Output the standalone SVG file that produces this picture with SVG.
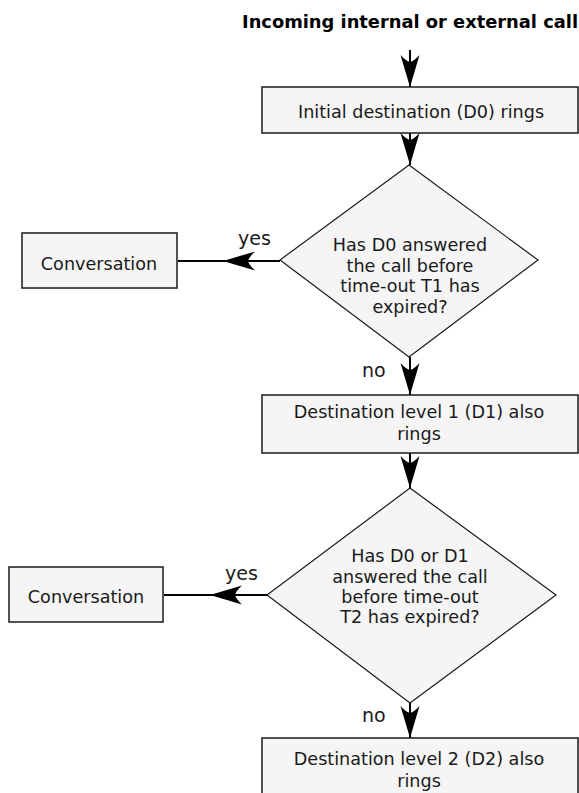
<svg xmlns="http://www.w3.org/2000/svg" width="579" height="793" viewBox="0 0 579 793">
<style>
  text { font-family: "DejaVu Sans", "Noto Sans", sans-serif; font-size: 17.6px; fill: #1a1a1a; }
  .title { font-weight: bold; fill: #000; font-size: 17.5px; }
  .box { fill: #f5f5f5; stroke: #1a1a1a; stroke-width: 1.5; }
  .dia { fill: #f5f5f5; stroke: #1a1a1a; stroke-width: 1.2; }
  .conn { stroke: #000; stroke-width: 2; fill: none; }
  .lbl { font-size: 19px; }
</style>
<defs>
  <marker id="arr" markerUnits="userSpaceOnUse" markerWidth="34" markerHeight="22" refX="32" refY="10" orient="auto">
    <path d="M32,10 L0,0.5 Q6,6 7,10 Q6,14 0,19.5 Z" fill="#000"/>
  </marker>
</defs>
<text class="title" x="242" y="28" textLength="336" lengthAdjust="spacingAndGlyphs">Incoming internal or external call</text>
<g id="connectors">
  <line class="conn" x1="410" y1="50" x2="410" y2="87" marker-end="url(#arr)"/>
  <line class="conn" x1="410" y1="133" x2="410" y2="165" marker-end="url(#arr)"/>
  <line class="conn" x1="280" y1="261" x2="223" y2="261" marker-end="url(#arr)"/>
  <line class="conn" x1="224" y1="261" x2="178" y2="261"/>
  <line class="conn" x1="410" y1="357" x2="410" y2="395" marker-end="url(#arr)"/>
  <line class="conn" x1="410" y1="453" x2="410" y2="488" marker-end="url(#arr)"/>
  <line class="conn" x1="267" y1="595" x2="210" y2="595" marker-end="url(#arr)"/>
  <line class="conn" x1="211" y1="595" x2="164" y2="595"/>
  <line class="conn" x1="410" y1="703" x2="410" y2="738" marker-end="url(#arr)"/>
  <text class="lbl" x="238" y="245">yes</text>
  <text class="lbl" x="362" y="377">no</text>
  <text class="lbl" x="225" y="580">yes</text>
  <text class="lbl" x="362" y="722">no</text>
</g>
<g id="d0">
  <rect class="box" x="262" y="87" width="316" height="46"/>
  <text x="421" y="118" text-anchor="middle">Initial destination (D0) rings</text>
</g>
<g id="q1">
  <polygon class="dia" points="409,165 538,260 409,357 280,260"/>
  <text x="410" y="251" text-anchor="middle">Has D0 answered</text>
  <text x="410" y="272" text-anchor="middle">the call before</text>
  <text x="410" y="292" text-anchor="middle">time-out T1 has</text>
  <text x="410" y="313" text-anchor="middle">expired?</text>
</g>
<g id="conv1">
  <rect class="box" x="22" y="233" width="155" height="55"/>
  <text x="99" y="270" text-anchor="middle">Conversation</text>
</g>
<g id="d1">
  <rect class="box" x="262" y="395" width="316" height="58"/>
  <text x="419" y="418" text-anchor="middle">Destination level 1 (D1) also</text>
  <text x="419" y="440" text-anchor="middle">rings</text>
</g>
<g id="q2">
  <polygon class="dia" points="410,488 556,595 410,703 267,595"/>
  <text x="410" y="562" text-anchor="middle">Has D0 or D1</text>
  <text x="410" y="583" text-anchor="middle">answered the call</text>
  <text x="410" y="603" text-anchor="middle">before time-out</text>
  <text x="410" y="623" text-anchor="middle">T2 has expired?</text>
</g>
<g id="conv2">
  <rect class="box" x="9" y="567" width="154" height="55"/>
  <text x="86" y="603" text-anchor="middle">Conversation</text>
</g>
<g id="d2">
  <rect class="box" x="262" y="738" width="316" height="70"/>
  <text x="419" y="765" text-anchor="middle">Destination level 2 (D2) also</text>
  <text x="419" y="787" text-anchor="middle">rings</text>
</g>
</svg>
